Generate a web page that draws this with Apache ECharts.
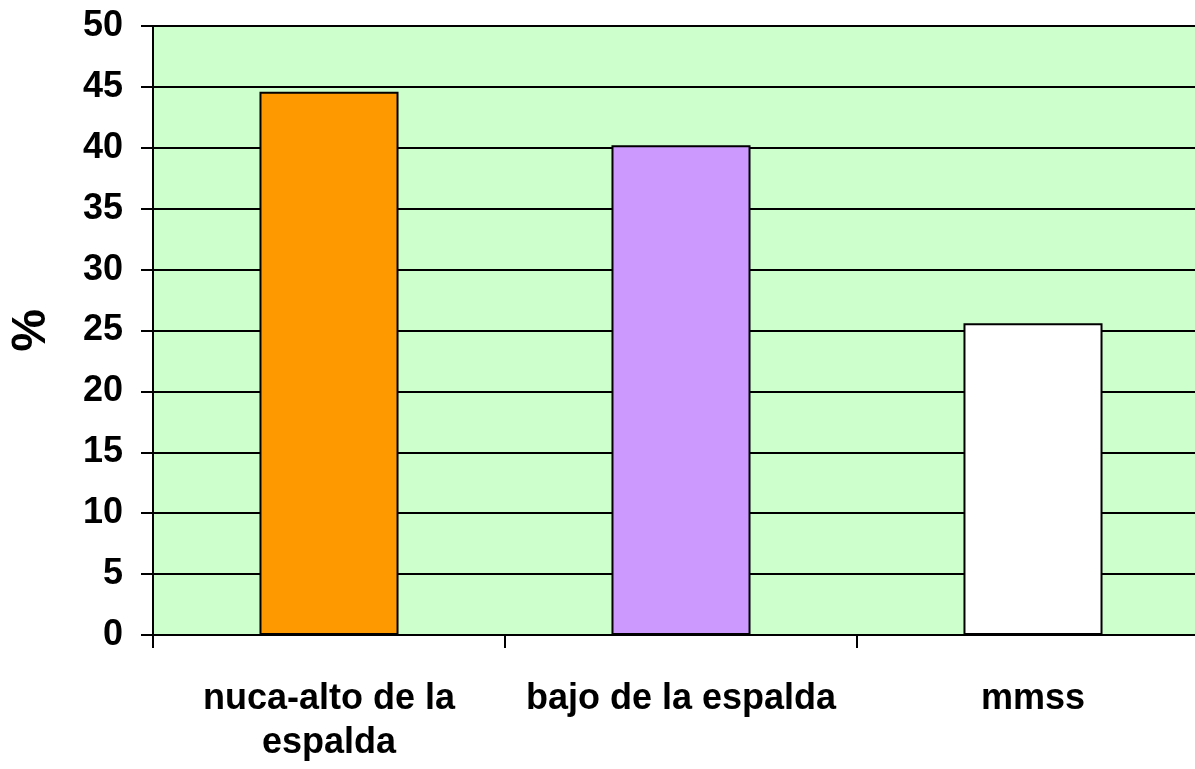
<!DOCTYPE html>
<html>
<head>
<meta charset="utf-8">
<script src="https://cdn.jsdelivr.net/npm/echarts@6/dist/echarts.min.js"></script>
<style>
html,body{margin:0;padding:0;background:#fff;}
#chart{width:1195px;height:769px;}
</style>
</head>
<body>
<div id="chart"></div>
<script>
var categories = ['nuca-alto de la\nespalda', 'bajo de la espalda', 'mmss'];
var values = [44.6, 40.2, 25.6];
var barColors = ['#FF9900', '#CC99FF', '#FFFFFF'];
var yTicks = { min: 0, max: 50, interval: 5 };

var FONT = '"Liberation Sans Narrow", "Arial Narrow", "Liberation Sans", Arial, sans-serif';

var chart = echarts.init(document.getElementById('chart'));
chart.setOption({
  animation: false,
  backgroundColor: '#ffffff',
  grid: {
    left: 153, right: -14, top: 26, bottom: 134,
    containLabel: false,
    outerBoundsMode: 'none',
    show: true, backgroundColor: '#CCFFCC', borderWidth: 0
  },
  xAxis: {
    type: 'category',
    data: categories,
    axisLine: { show: true, lineStyle: { color: '#000', width: 2 } },
    axisTick: { show: true, length: 13, lineStyle: { color: '#000', width: 2 } },
    axisLabel: {
      color: '#000', fontFamily: FONT, fontWeight: 'bold', fontSize: 36,
      lineHeight: 44, margin: 42, interval: 0
    },
    splitLine: { show: false }
  },
  yAxis: {
    type: 'value',
    min: yTicks.min, max: yTicks.max, interval: yTicks.interval,
    name: '%',
    nameLocation: 'middle',
    nameGap: 97,
    nameRotate: 90,
    nameTextStyle: { color: '#000', fontFamily: FONT, fontWeight: 'bold', fontSize: 48 },
    axisLine: { show: true, lineStyle: { color: '#000', width: 2 } },
    axisTick: { show: true, inside: false, length: 12, lineStyle: { color: '#000', width: 2 } },
    axisLabel: { color: '#000', fontFamily: FONT, fontWeight: 'bold', fontSize: 36, margin: 30 },
    splitLine: { show: true, lineStyle: { color: '#000', width: 2 } }
  },
  series: [{
    type: 'bar',
    barWidth: '39.5%',
    data: values.map(function (v, i) {
      return { value: v, itemStyle: { color: barColors[i] } };
    }),
    itemStyle: { borderColor: '#000', borderWidth: 2 }
  }]
});
</script>
</body>
</html>
